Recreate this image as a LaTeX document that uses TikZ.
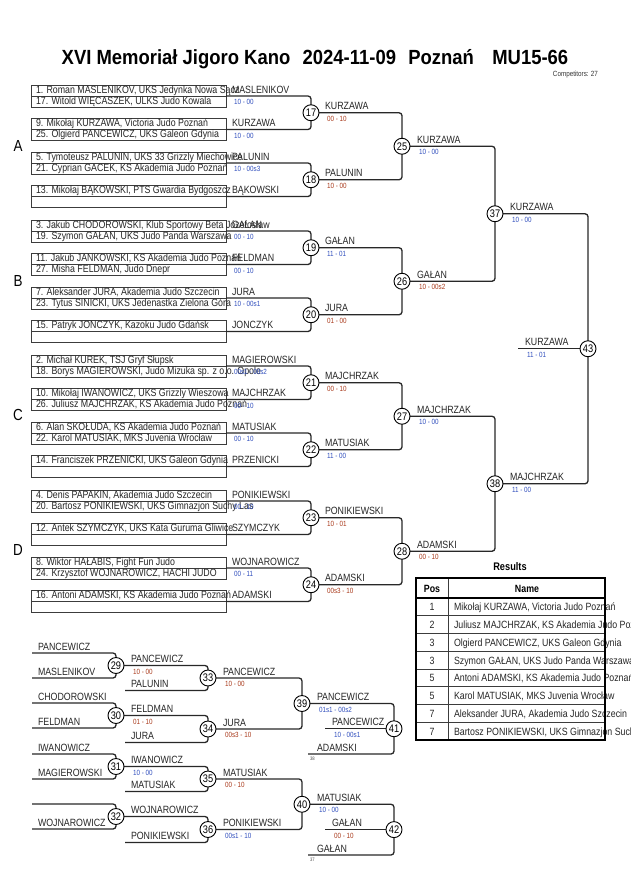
\documentclass[tikz,border=0pt]{standalone}
\usepackage{fontspec}
\setmainfont[FakeStretch=0.84]{Liberation Sans}
\newfontfamily\titlefont[FakeStretch=0.9]{Liberation Sans}
\definecolor{linecol}{RGB}{40,40,40}
\definecolor{boxcol}{RGB}{60,60,60}
\definecolor{scoreblue}{RGB}{50,80,190}
\definecolor{scorered}{RGB}{170,60,30}
\tikzset{
 every node/.style={inner sep=0pt, outer sep=0pt},
 brline/.style={draw=linecol, line width=1.3pt, rounded corners=3pt},
 boxline/.style={draw=boxcol, line width=0.9pt},
 entrant/.style={anchor=base west, font=\fontsize{10.5}{12}\selectfont, text=black!85},
 wname/.style={anchor=base west, font=\fontsize{10.5}{12}\selectfont, text=black!85},
 scB/.style={anchor=base west, font=\fontsize{7.5}{9}\selectfont, text=scoreblue},
 scR/.style={anchor=base west, font=\fontsize{7.5}{9}\selectfont, text=scorered},
 fight/.style={circle, draw=black, line width=0.9pt, fill=white, minimum size=16pt, inner sep=0pt, font=\fontsize{11}{12}\selectfont},
 poolletter/.style={font=\fontsize{16}{18}\selectfont},
 tinylab/.style={anchor=base west, font=\fontsize{5}{6}\selectfont, text=black!70},
 thead/.style={font=\bfseries\fontsize{10.5}{12}\selectfont},
 tcell/.style={anchor=base west, font=\fontsize{10.5}{12}\selectfont, text=black!85},
 tpos/.style={anchor=base, font=\fontsize{10.5}{12}\selectfont, text=black!85},
}
% pair slot: id, mid y, top text, bottom text
\newcommand{\pairslot}[4]{%
  \draw[boxline] (31,#2-11) rectangle (226,#2+11);
  \draw[boxline] (31,#2) -- (226,#2);
  \node[entrant] (#1t) at (36,#2-2.8) {#3};
  \node[entrant] (#1b) at (36,#2+8.2) {#4};
  \coordinate (#1) at (226,#2);
}
% winner label: id, x, line y, name, score style, score
\newcommand{\winlab}[6]{%
  \node[wname] (#1) at (#2,#3-3) {#4};
  \node[#5] (#1s) at (#2+2,#3+8.5) {#6};
}
\newcommand{\namelab}[4]{%
  \node[wname] (#1) at (#2,#3-3) {#4};
}
\begin{document}
\begin{tikzpicture}[x=1pt,y=-1pt]
\useasboundingbox (0,0) rectangle (630,891);
\fill[white] (0,0) rectangle (630,891);

% title
\node[anchor=base, font=\titlefont\bfseries\fontsize{20.5}{23}\selectfont] (title) at (315,64) {XVI Memoriał Jigoro Kano\hspace{0.6em}2024-11-09\hspace{0.6em}Poznań\hspace{0.9em}MU15-66};
\node[anchor=base east, font=\fontsize{7.5}{9}\selectfont, text=black!80] (comp) at (598,77) {Competitors: 27};

% pool letters
\node[poolletter] (pA) at (18,146) {A};
\node[poolletter] (pB) at (18,281) {B};
\node[poolletter] (pC) at (18,415) {C};
\node[poolletter] (pD) at (18,550) {D};

% fight coordinates
\coordinate (c17) at (311,112.75);
\coordinate (c18) at (311,179.75);
\coordinate (c19) at (311,247.75);
\coordinate (c20) at (311,314.75);
\coordinate (c21) at (311,382.75);
\coordinate (c22) at (311,449.75);
\coordinate (c23) at (311,517.75);
\coordinate (c24) at (311,584.75);
\coordinate (c25) at (402,146.25);
\coordinate (c26) at (402,281.25);
\coordinate (c27) at (402,416.25);
\coordinate (c28) at (402,551.25);
\coordinate (c37) at (495,213.75);
\coordinate (c38) at (495,483.75);
\coordinate (c43) at (588,348.75);
\coordinate (fin) at (518,348.75);

% entrant boxes
\pairslot{sA1}{96}{1. Roman MASLENIKOV, UKS Jedynka Nowa Sącz}{17. Witold WIĘCASZEK, ULKS Judo Kowala}
\pairslot{sA2}{129.5}{9. Mikołaj KURZAWA, Victoria Judo Poznań}{25. Olgierd PANCEWICZ, UKS Galeon Gdynia}
\pairslot{sA3}{163}{5. Tymoteusz PALUNIN, UKS 33 Grizzly Miechowice}{21. Cyprian GACEK, KS Akademia Judo Poznań}
\pairslot{sA4}{196.5}{13. Mikołaj BĄKOWSKI, PTS Gwardia Bydgoszcz}{}
\pairslot{sB1}{231}{3. Jakub CHODOROWSKI, Klub Sportowy Beta Józefosław}{19. Szymon GAŁAN, UKS Judo Panda Warszawa}
\pairslot{sB2}{264.5}{11. Jakub JANKOWSKI, KS Akademia Judo Poznań}{27. Misha FELDMAN, Judo Dnepr}
\pairslot{sB3}{298}{7. Aleksander JURA, Akademia Judo Szczecin}{23. Tytus SINICKI, UKS Jedenastka Zielona Góra}
\pairslot{sB4}{331.5}{15. Patryk JONCZYK, Kazoku Judo Gdańsk}{}
\pairslot{sC1}{366}{2. Michał KUREK, TSJ Gryf Słupsk}{18. Borys MAGIEROWSKI, Judo Mizuka sp. z o.o. Opole}
\pairslot{sC2}{399.5}{10. Mikołaj IWANOWICZ, UKS Grizzly Wieszowa}{26. Juliusz MAJCHRZAK, KS Akademia Judo Poznań}
\pairslot{sC3}{433}{6. Alan SKOŁUDA, KS Akademia Judo Poznań}{22. Karol MATUSIAK, MKS Juvenia Wrocław}
\pairslot{sC4}{466.5}{14. Franciszek PRZENICKI, UKS Galeon Gdynia}{}
\pairslot{sD1}{501}{4. Denis PAPAKIN, Akademia Judo Szczecin}{20. Bartosz PONIKIEWSKI, UKS Gimnazjon Suchy Las}
\pairslot{sD2}{534.5}{12. Antek SZYMCZYK, UKS Kata Guruma Gliwice}{}
\pairslot{sD3}{568}{8. Wiktor HAŁABIS, Fight Fun Judo}{24. Krzysztof WOJNAROWICZ, HACHI JUDO}
\pairslot{sD4}{601.5}{16. Antoni ADAMSKI, KS Akademia Judo Poznań}{}

% main bracket lines
\draw[brline] (sA1) -| (c17) |- (sA2);
\draw[brline] (sA3) -| (c18) |- (sA4);
\draw[brline] (sB1) -| (c19) |- (sB2);
\draw[brline] (sB3) -| (c20) |- (sB4);
\draw[brline] (sC1) -| (c21) |- (sC2);
\draw[brline] (sC3) -| (c22) |- (sC4);
\draw[brline] (sD1) -| (c23) |- (sD2);
\draw[brline] (sD3) -| (c24) |- (sD4);
\draw[brline] (c17) -| (c25) |- (c18);
\draw[brline] (c19) -| (c26) |- (c20);
\draw[brline] (c21) -| (c27) |- (c22);
\draw[brline] (c23) -| (c28) |- (c24);
\draw[brline] (c25) -| (c37) |- (c26);
\draw[brline] (c27) -| (c38) |- (c28);
\draw[brline] (c37) -| (c43) |- (c38);
\draw[brline] (fin) -- (c43);

% first round winner labels
\winlab{wA1}{232}{96}{MASLENIKOV}{scB}{10 - 00}
\winlab{wA2}{232}{129.5}{KURZAWA}{scB}{10 - 00}
\winlab{wA3}{232}{163}{PALUNIN}{scB}{10 - 00s3}
\namelab{wA4}{232}{196.5}{BĄKOWSKI}
\winlab{wB1}{232}{231}{GAŁAN}{scB}{00 - 10}
\winlab{wB2}{232}{264.5}{FELDMAN}{scB}{00 - 10}
\winlab{wB3}{232}{298}{JURA}{scB}{10 - 00s1}
\namelab{wB4}{232}{331.5}{JONCZYK}
\winlab{wC1}{232}{366}{MAGIEROWSKI}{scB}{00s1 - 00s2}
\winlab{wC2}{232}{399.5}{MAJCHRZAK}{scB}{00 - 10}
\winlab{wC3}{232}{433}{MATUSIAK}{scB}{00 - 10}
\namelab{wC4}{232}{466.5}{PRZENICKI}
\winlab{wD1}{232}{501}{PONIKIEWSKI}{scB}{00 - 10}
\namelab{wD2}{232}{534.5}{SZYMCZYK}
\winlab{wD3}{232}{568}{WOJNAROWICZ}{scB}{00 - 11}
\namelab{wD4}{232}{601.5}{ADAMSKI}

% second round labels
\winlab{w17}{325}{112.75}{KURZAWA}{scR}{00 - 10}
\winlab{w18}{325}{179.75}{PALUNIN}{scR}{10 - 00}
\winlab{w19}{325}{247.75}{GAŁAN}{scB}{11 - 01}
\winlab{w20}{325}{314.75}{JURA}{scR}{01 - 00}
\winlab{w21}{325}{382.75}{MAJCHRZAK}{scR}{00 - 10}
\winlab{w22}{325}{449.75}{MATUSIAK}{scB}{11 - 00}
\winlab{w23}{325}{517.75}{PONIKIEWSKI}{scR}{10 - 01}
\winlab{w24}{325}{584.75}{ADAMSKI}{scR}{00s3 - 10}
\winlab{w25}{417}{146.25}{KURZAWA}{scB}{10 - 00}
\winlab{w26}{417}{281.25}{GAŁAN}{scR}{10 - 00s2}
\winlab{w27}{417}{416.25}{MAJCHRZAK}{scB}{10 - 00}
\winlab{w28}{417}{551.25}{ADAMSKI}{scR}{00 - 10}
\winlab{w37}{510}{213.75}{KURZAWA}{scB}{10 - 00}
\winlab{w38}{510}{483.75}{MAJCHRZAK}{scB}{11 - 00}
\winlab{w43}{525}{348.75}{KURZAWA}{scB}{11 - 01}

% fight circles main
\foreach \f in {17,18,19,20,21,22,23,24,25,26,27,28,37,38,43}
  \node[fight] (f\f) at (c\f) {\f};

% repechage
\coordinate (r29a) at (32,653);
\coordinate (r29b) at (32,678);
\coordinate (r30a) at (32,703);
\coordinate (r30b) at (32,728);
\coordinate (r31a) at (32,754);
\coordinate (r31b) at (32,779);
\coordinate (r32a) at (32,804);
\coordinate (r32b) at (32,829);
\coordinate (c29) at (116,665.5);
\coordinate (c30) at (116,715.5);
\coordinate (c31) at (116,766.5);
\coordinate (c32) at (116,816.5);
\coordinate (c33) at (208,678);
\coordinate (c34) at (208,729);
\coordinate (c35) at (208,779);
\coordinate (c36) at (208,829.5);
\coordinate (r33b) at (125,690.5);
\coordinate (r34b) at (125,742.5);
\coordinate (r35b) at (125,791.5);
\coordinate (r36b) at (125,842.5);
\coordinate (c39) at (302,703.5);
\coordinate (c40) at (302,804.25);
\coordinate (c41) at (394,728.75);
\coordinate (c42) at (394,829.6);
\coordinate (r41b) at (308,754);
\coordinate (r42b) at (308,855);
\coordinate (b41) at (325,728.75);
\coordinate (b42) at (325,829.6);

\draw[brline] (r29a) -| (c29) |- (r29b);
\draw[brline] (r30a) -| (c30) |- (r30b);
\draw[brline] (r31a) -| (c31) |- (r31b);
\draw[brline] (r32a) -| (c32) |- (r32b);
\draw[brline] (c29) -| (c33) |- (r33b);
\draw[brline] (c30) -| (c34) |- (r34b);
\draw[brline] (c31) -| (c35) |- (r35b);
\draw[brline] (c32) -| (c36) |- (r36b);
\draw[brline] (c33) -| (c39) |- (c34);
\draw[brline] (c35) -| (c40) |- (c36);
\draw[brline] (c39) -| (c41) |- (r41b);
\draw[brline] (c40) -| (c42) |- (r42b);
\draw[brline] (b41) -- (c41);
\draw[brline] (b42) -- (c42);

\namelab{r29t}{38}{653}{PANCEWICZ}
\namelab{r29l}{38}{678}{MASLENIKOV}
\namelab{r30t}{38}{703}{CHODOROWSKI}
\namelab{r30l}{38}{728}{FELDMAN}
\namelab{r31t}{38}{754}{IWANOWICZ}
\namelab{r31l}{38}{779}{MAGIEROWSKI}
\namelab{r32l}{38}{829}{WOJNAROWICZ}
\winlab{w29}{131}{665.5}{PANCEWICZ}{scR}{10 - 00}
\namelab{r33l}{131}{690.5}{PALUNIN}
\winlab{w30}{131}{715.5}{FELDMAN}{scR}{01 - 10}
\namelab{r34l}{131}{742.5}{JURA}
\winlab{w31}{131}{766.5}{IWANOWICZ}{scB}{10 - 00}
\namelab{r35l}{131}{791.5}{MATUSIAK}
\namelab{w32}{131}{816.5}{WOJNAROWICZ}
\namelab{r36l}{131}{842.5}{PONIKIEWSKI}
\winlab{w33}{223}{678}{PANCEWICZ}{scR}{10 - 00}
\winlab{w34}{223}{729}{JURA}{scR}{00s3 - 10}
\winlab{w35}{223}{779}{MATUSIAK}{scR}{00 - 10}
\winlab{w36}{223}{829.5}{PONIKIEWSKI}{scB}{00s1 - 10}
\winlab{w39}{317}{703.5}{PANCEWICZ}{scB}{01s1 - 00s2}
\namelab{r41l}{317}{754}{ADAMSKI}
\node[tinylab] (n38) at (310,760) {38};
\winlab{w41}{332}{728.75}{PANCEWICZ}{scB}{10 - 00s1}
\winlab{w40}{317}{804.25}{MATUSIAK}{scB}{10 - 00}
\namelab{r42l}{317}{855}{GAŁAN}
\node[tinylab] (n37) at (310,861) {37};
\winlab{w42}{332}{829.6}{GAŁAN}{scR}{00 - 10}

\foreach \f in {29,30,31,32,33,34,35,36,39,40,41,42}
  \node[fight] (f\f) at (c\f) {\f};

% results table
\node[anchor=base, font=\bfseries\fontsize{11}{13}\selectfont] (restitle) at (510,570) {Results};
\foreach \k in {1,...,7}
  \draw[boxcol, line width=0.8pt] (416,598+\k*17.75) -- (605,598+\k*17.75);
\draw[boxcol, line width=0.8pt] (448,578) -- (448,740);
\node[thead, anchor=base] (hpos) at (432,592) {Pos};
\node[thead, anchor=base] (hname) at (527,592) {Name};
\foreach \p/\n [count=\i] in {1/{Mikołaj KURZAWA, Victoria Judo Poznań},2/{Juliusz MAJCHRZAK, KS Akademia Judo Poznań},3/{Olgierd PANCEWICZ, UKS Galeon Gdynia},3/{Szymon GAŁAN, UKS Judo Panda Warszawa},5/{Antoni ADAMSKI, KS Akademia Judo Poznań},5/{Karol MATUSIAK, MKS Juvenia Wrocław},7/{Aleksander JURA, Akademia Judo Szczecin},7/{Bartosz PONIKIEWSKI, UKS Gimnazjon Suchy Las}}{
  \node[tpos] (tp\i) at (432,598+\i*17.75-5) {\p};
  \node[tcell] (tn\i) at (454,598+\i*17.75-5) {\n};
}
\draw[black, line width=1.6pt] (416,578) rectangle (605,740);
\draw[black, line width=1.6pt] (416,598) -- (605,598);
\end{tikzpicture}
\end{document}
